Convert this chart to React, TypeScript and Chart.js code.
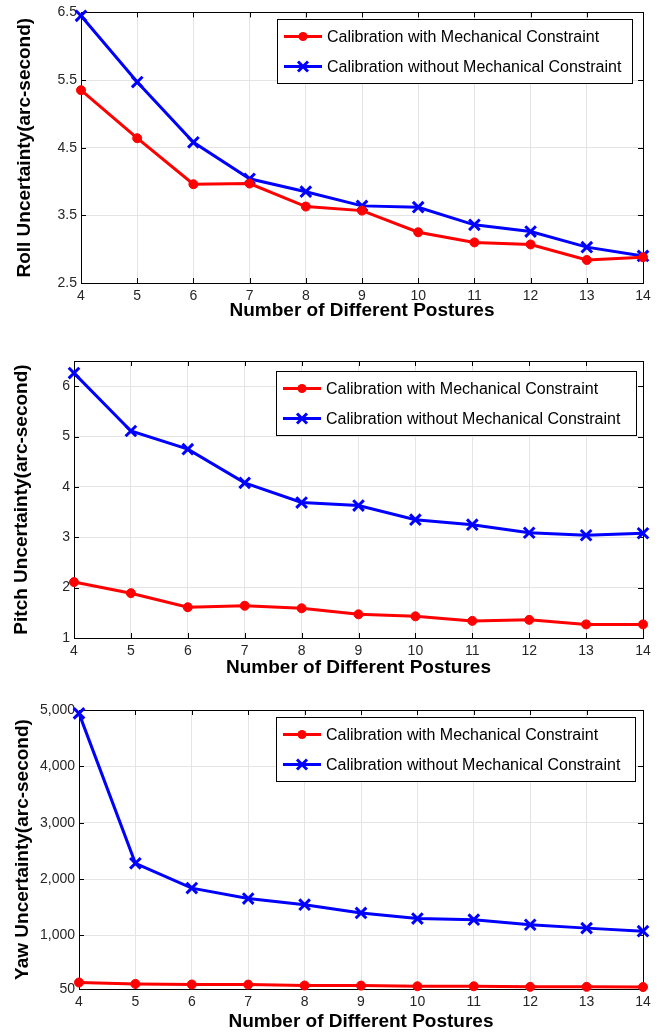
import React, { useEffect, useRef } from "react";
import { Chart, registerables } from "chart.js";

Chart.register(...registerables);

// ---------------- data ----------------
const postures = [4, 5, 6, 7, 8, 9, 10, 11, 12, 13, 14];

const rollWith = [5.35, 4.64, 3.96, 3.97, 3.63, 3.57, 3.25, 3.1, 3.07, 2.84, 2.88];
const rollWithout = [6.45, 5.47, 4.58, 4.04, 3.85, 3.64, 3.62, 3.36, 3.26, 3.03, 2.9];

const pitchWith = [2.11, 1.89, 1.61, 1.64, 1.59, 1.47, 1.43, 1.34, 1.36, 1.27, 1.27];
const pitchWithout = [6.26, 5.11, 4.75, 4.08, 3.69, 3.63, 3.35, 3.25, 3.09, 3.04, 3.08];

const yawWith = [165, 140, 130, 128, 112, 110, 98, 98, 88, 88, 85];
const yawWithout = [4940, 2280, 1840, 1655, 1545, 1400, 1300, 1280, 1190, 1130, 1075];

const rollTicks = [2.5, 3.5, 4.5, 5.5, 6.5];
const pitchTicks = [1, 2, 3, 4, 5, 6];
const yawTicks = [50, 1000, 2000, 3000, 4000, 5000];

const seriesLabels = [
  "Calibration with Mechanical Constraint",
  "Calibration without Mechanical Constraint",
];
const xTitle = "Number of Different Postures";

const FONT = "'Liberation Sans', Arial, Helvetica, sans-serif";
const RED = "#ff0000";
const BLUE = "#0000ff";

// ---------------- plugins ----------------
const frame = {
  id: "mlFrame",
  beforeDatasetsDraw(chart: any) {
    const { ctx, chartArea } = chart;
    const { left, right, top, bottom } = chartArea;
    const xs = chart.scales.x;
    const ys = chart.scales.y;
    const tl = 5;
    ctx.save();
    ctx.strokeStyle = "#000";
    ctx.lineWidth = 1;
    ctx.beginPath();
    xs.ticks.forEach((t: any) => {
      const px = Math.round(xs.getPixelForValue(t.value)) + 0.5;
      ctx.moveTo(px, bottom);
      ctx.lineTo(px, bottom - tl);
      ctx.moveTo(px, top);
      ctx.lineTo(px, top + tl);
    });
    ys.ticks.forEach((t: any) => {
      const py = Math.round(ys.getPixelForValue(t.value)) + 0.5;
      ctx.moveTo(left, py);
      ctx.lineTo(left + tl, py);
      ctx.moveTo(right, py);
      ctx.lineTo(right - tl, py);
    });
    ctx.stroke();
    ctx.strokeRect(Math.round(left) + 0.5, Math.round(top) + 0.5, Math.round(right - left), Math.round(bottom - top));
    ctx.restore();
  },
};

const mlLegend = {
  id: "mlLegend",
  afterDraw(chart: any, _args: any, opts: any) {
    const { ctx, chartArea } = chart;
    ctx.save();
    ctx.font = `16px ${FONT}`;
    const dss = chart.data.datasets;
    const boxW = opts.width;
    const x1 = Math.round(chartArea.right - opts.right);
    const x0 = x1 - boxW;
    const y0 = Math.round(chartArea.top + opts.top);
    const h = opts.height;
    ctx.fillStyle = "#fff";
    ctx.fillRect(x0, y0, boxW, h);
    ctx.strokeStyle = "#000";
    ctx.lineWidth = 1;
    ctx.strokeRect(x0 + 0.5, y0 + 0.5, boxW, h);
    dss.forEach((d: any, i: number) => {
      const y = y0 + opts.rows[i];
      ctx.strokeStyle = d.borderColor;
      ctx.lineWidth = 3;
      ctx.beginPath();
      ctx.moveTo(x0 + 7, y);
      ctx.lineTo(x0 + 45, y);
      ctx.stroke();
      const cx = x0 + 26;
      if (d.pointStyle === "circle") {
        ctx.fillStyle = d.borderColor;
        ctx.beginPath();
        ctx.arc(cx, y, 4.5, 0, Math.PI * 2);
        ctx.fill();
      } else {
        const r = 5;
        ctx.beginPath();
        ctx.moveTo(cx - r, y - r);
        ctx.lineTo(cx + r, y + r);
        ctx.moveTo(cx - r, y + r);
        ctx.lineTo(cx + r, y - r);
        ctx.stroke();
      }
      ctx.fillStyle = "#000";
      ctx.textBaseline = "middle";
      ctx.textAlign = "left";
      ctx.fillText(d.label, x0 + 50, y + 1);
    });
    ctx.restore();
  },
};

// ---------------- panel ----------------
type PanelProps = {
  yTitle: string;
  withData: number[];
  withoutData: number[];
  yMin: number;
  yMax: number;
  yTicks: number[];
  comma?: boolean;
  top: number;
  height: number;
  plotTop: number;
  plotBottom: number;
  plotLeft: number;
  yTitleX: number;
  xTitleY: number;
  legendTop: number;
  legendRight: number;
  legendWidth: number;
};

const W = 667;
const PLOT_RIGHT = 643;

function Panel(p: PanelProps) {
  const ref = useRef<HTMLCanvasElement | null>(null);
  useEffect(() => {
    if (!ref.current) return;
    const lh = 19 * 1.2;
    const chart = new Chart(ref.current, {
      type: "line",
      data: {
        datasets: [
          {
            label: seriesLabels[0],
            data: postures.map((x, i) => ({ x, y: p.withData[i] })),
            borderColor: RED,
            backgroundColor: RED,
            borderWidth: 3,
            pointStyle: "circle",
            pointRadius: 4.5,
            pointBorderWidth: 1,
            pointBackgroundColor: RED,
            pointBorderColor: RED,
            clip: false,
            tension: 0,
          },
          {
            label: seriesLabels[1],
            data: postures.map((x, i) => ({ x, y: p.withoutData[i] })),
            borderColor: BLUE,
            backgroundColor: BLUE,
            borderWidth: 3,
            pointStyle: "crossRot",
            pointRadius: 7.5,
            pointBorderWidth: 3,
            pointBorderColor: BLUE,
            clip: false,
            tension: 0,
          },
        ] as any,
      },
      options: {
        animation: false,
        responsive: false,
        maintainAspectRatio: false,
        layout: { padding: { top: p.plotTop, right: W - PLOT_RIGHT, left: 0, bottom: 0 } },
        plugins: {
          legend: { display: false },
          tooltip: { enabled: false },
          mlLegend: {
            right: p.legendRight,
            top: p.legendTop,
            width: p.legendWidth,
            height: 64,
            rows: [17.5, 47.5],
          },
        } as any,
        scales: {
          x: {
            type: "linear",
            min: 4,
            max: 14,
            afterBuildTicks: (s: any) => {
              s.ticks = postures.map((v) => ({ value: v }));
            },
            afterFit: (s: any) => {
              s.height = p.height - p.plotBottom;
            },
            grid: { color: "#e4e4e4", drawTicks: false },
            border: { color: "#000" },
            ticks: {
              font: { family: FONT, size: 14 },
              color: "#262626",
              padding: 5,
              maxRotation: 0,
              autoSkip: false,
            },
            title: {
              display: true,
              text: xTitle,
              color: "#000",
              font: { family: FONT, size: 19, weight: "bold" },
              padding: { top: 0, bottom: p.height - p.xTitleY - lh / 2 },
            },
          },
          y: {
            type: "linear",
            min: p.yMin,
            max: p.yMax,
            afterBuildTicks: (s: any) => {
              s.ticks = p.yTicks.map((v) => ({ value: v }));
            },
            afterFit: (s: any) => {
              s.width = p.plotLeft;
            },
            grid: { color: "#e4e4e4", drawTicks: false },
            border: { color: "#000" },
            ticks: {
              font: { family: FONT, size: 14 },
              color: "#262626",
              padding: 4,
              autoSkip: false,
              callback: (v: any) => (p.comma ? Number(v).toLocaleString("en-US") : String(v)),
            },
            title: {
              display: true,
              text: p.yTitle,
              color: "#000",
              font: { family: FONT, size: 19, weight: "bold" },
              padding: { top: p.yTitleX - lh / 2, bottom: 0 },
            },
          },
        },
      } as any,
      plugins: [frame, mlLegend],
    });
    return () => chart.destroy();
  }, []);
  return (
    <canvas
      ref={ref}
      width={W}
      height={p.height}
      style={{ position: "absolute", left: 0, top: p.top, width: W, height: p.height, display: "block" }}
    />
  );
}

export default function App() {
  return (
    <div style={{ position: "absolute", left: 0, top: 0, width: W, height: 1036, background: "#fff" }}>
      <Panel
        yTitle="Roll Uncertainty(arc-second)"
        withData={rollWith}
        withoutData={rollWithout}
        yMin={2.5}
        yMax={6.5}
        yTicks={rollTicks}
        top={0}
        height={330}
        plotTop={10}
        plotBottom={283}
        plotLeft={81}
        yTitleX={25}
        xTitleY={311}
        legendTop={7}
        legendRight={11}
        legendWidth={355}
      />
      <Panel
        yTitle="Pitch Uncertainty(arc-second)"
        withData={pitchWith}
        withoutData={pitchWithout}
        yMin={1}
        yMax={6.5}
        yTicks={pitchTicks}
        top={330}
        height={350}
        plotTop={31}
        plotBottom={308}
        plotLeft={74}
        yTitleX={22}
        xTitleY={338}
        legendTop={10}
        legendRight={7}
        legendWidth={360}
      />
      <Panel
        yTitle="Yaw Uncertainty(arc-second)"
        withData={yawWith}
        withoutData={yawWithout}
        yMin={50}
        yMax={5000}
        yTicks={yawTicks}
        comma
        top={680}
        height={356}
        plotTop={30}
        plotBottom={309}
        plotLeft={79}
        yTitleX={23}
        xTitleY={342}
        legendTop={7}
        legendRight={8}
        legendWidth={359}
      />
    </div>
  );
}
